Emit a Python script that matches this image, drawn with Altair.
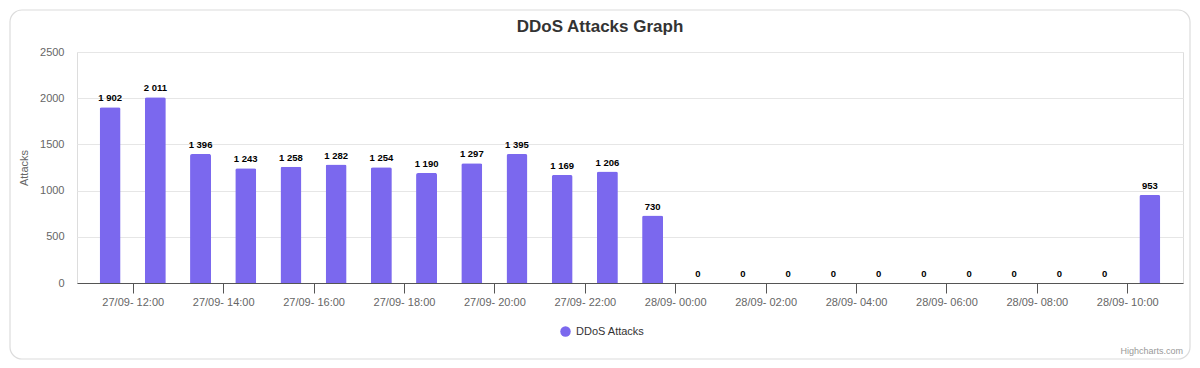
import altair as alt
import pandas as pd

# ---- data ----
times = [
    "2023-09-27T11:30:00Z", "2023-09-27T12:30:00Z", "2023-09-27T13:30:00Z",
    "2023-09-27T14:30:00Z", "2023-09-27T15:30:00Z", "2023-09-27T16:30:00Z",
    "2023-09-27T17:30:00Z", "2023-09-27T18:30:00Z", "2023-09-27T19:30:00Z",
    "2023-09-27T20:30:00Z", "2023-09-27T21:30:00Z", "2023-09-27T22:30:00Z",
    "2023-09-27T23:30:00Z", "2023-09-28T00:30:00Z", "2023-09-28T01:30:00Z",
    "2023-09-28T02:30:00Z", "2023-09-28T03:30:00Z", "2023-09-28T04:30:00Z",
    "2023-09-28T05:30:00Z", "2023-09-28T06:30:00Z", "2023-09-28T07:30:00Z",
    "2023-09-28T08:30:00Z", "2023-09-28T09:30:00Z", "2023-09-28T10:30:00Z",
]
attacks = [1902, 2011, 1396, 1243, 1258, 1282, 1254, 1190, 1297, 1395, 1169, 1206,
           730, 0, 0, 0, 0, 0, 0, 0, 0, 0, 0, 953]
series_name = "DDoS Attacks"
y_ticks = [0, 500, 1000, 1500, 2000, 2500]
# x tick positions: (day, hour) every two hours
x_tick_times = [(27, 12), (27, 14), (27, 16), (27, 18), (27, 20), (27, 22),
                (28, 0), (28, 2), (28, 4), (28, 6), (28, 8), (28, 10)]

df = pd.DataFrame({"time": times, "attacks": attacks, "series": series_name})

FONT = "Liberation Sans"
W, H = 1106, 231
BAR_COLOR = "#7b68ee"


def dt(day, hour, minute=0):
    return alt.DateTime(year=2023, month=9, date=day, hours=hour, minutes=minute, utc=True)


x_enc = alt.X(
    "time:T",
    scale=alt.Scale(type="utc", domain=[dt(27, 10, 46), dt(28, 11, 14)], padding=0),
    axis=alt.Axis(
        values=[dt(d, h) for d, h in x_tick_times],
        format="%d/%m- %H:%M",
        title=None,
        grid=False,
        domainColor="#555555",
        tickColor="#555555",
        tickSize=10,
        labelPadding=3,
        labelFontSize=11,
        labelColor="#666666",
        labelFont=FONT,
        labelOverlap=False,
    ),
)
y_enc = alt.Y(
    "attacks:Q",
    scale=alt.Scale(domain=[0, 2500], nice=False, padding=0),
    axis=alt.Axis(
        values=y_ticks,
        format="d",
        title="Attacks",
        titleFont=FONT,
        titleFontSize=11,
        titleFontWeight="normal",
        titleColor="#666666",
        titlePadding=10,
        labelFont=FONT,
        labelFontSize=11,
        labelColor="#666666",
        labelPadding=13,
        ticks=False,
        tickSize=0,
        domain=False,
        gridColor="#e6e6e6",
    ),
)

bars = alt.Chart(df).mark_bar(
    size=21, cornerRadiusTopLeft=2, cornerRadiusTopRight=2
).encode(
    x=x_enc,
    y=y_enc,
    color=alt.Color(
        "series:N",
        scale=alt.Scale(range=[BAR_COLOR]),
        legend=alt.Legend(
            title=None,
            orient="none",
            legendX=483,
            legendY=274,
            symbolType="circle",
            symbolSize=110,
            symbolStrokeWidth=0,
            labelFont=FONT,
            labelFontSize=11,
            labelColor="#333333",
            labelOffset=5,
            padding=0,
        ),
    ),
)

labels = alt.Chart(df).transform_calculate(
    lbl="replace(format(datum.attacks, ','), ',', ' ')"
).mark_text(
    font=FONT, fontSize=9.5, fontWeight="bold", color="#000000",
    baseline="bottom", dy=-4
).encode(
    x=alt.X("time:T"),
    y=alt.Y("attacks:Q"),
    text="lbl:N",
)

blank = alt.Data(values=[{"k": 1}])

border = alt.Chart(blank).mark_rect(
    filled=False, stroke="#dcdcdc", strokeWidth=1.2, cornerRadius=12
).encode(
    x=alt.value(-67), x2=alt.value(1113), y=alt.value(-42), y2=alt.value(307)
)

credits = alt.Chart(blank).mark_text(
    text="Highcharts.com", font=FONT, fontSize=9, color="#999999",
    align="right", baseline="middle"
).encode(x=alt.value(1106), y=alt.value(299))

chart = alt.layer(border, bars, labels, credits).properties(
    width=W,
    height=H,
    title=alt.TitleParams(
        "DDoS Attacks Graph",
        font=FONT,
        fontSize=17,
        fontWeight="bold",
        color="#333333",
        anchor="middle",
        baseline="alphabetic",
        dx=-30,
        offset=-40,
    ),
    autosize=alt.AutoSizeParams(type="none"),
    padding={"left": 69, "top": 44, "right": 9, "bottom": 77},
).configure_view(stroke=None).configure(background="white")

chart.save("out.html", embed_options={"renderer": "svg", "actions": False})
